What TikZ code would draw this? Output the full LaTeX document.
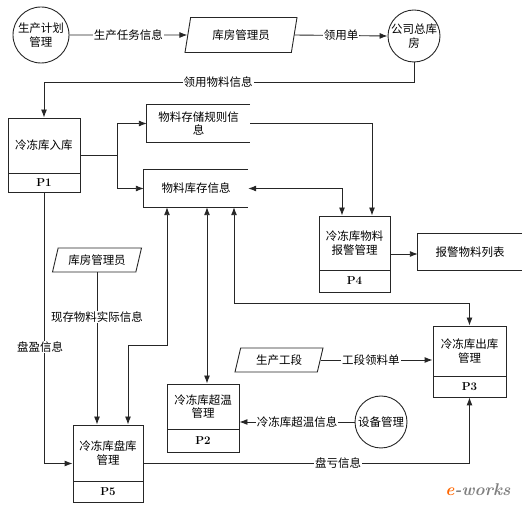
\documentclass[tikz,border=0pt]{standalone}
\usepackage{fontspec}
\newfontfamily\cjk{Noto Sans CJK SC}
\usetikzlibrary{arrows.meta,shapes.geometric}
\tikzset{
  every node/.style={font=\cjk\fontsize{11.5}{13.5}\selectfont},
  ln/.style={line width=0.9pt, draw=black!85},
  arr/.style={ln, -{Latex[length=8pt,width=6pt]}},
  darr/.style={ln, {Latex[length=8pt,width=6pt]}-{Latex[length=8pt,width=6pt]}},
  lab/.style={fill=white, inner sep=1pt},
  circ/.style={circle, draw=black!85, line width=0.9pt, inner sep=0pt, align=center},
  para/.style={trapezium, trapezium left angle=66, trapezium right angle=114,
    trapezium stretches body, draw=black!85, line width=0.9pt, inner sep=1pt},
  proc/.style={rectangle, draw=black!85, line width=0.9pt, inner sep=0pt},
  store/.style={inner sep=0pt, align=center},
  plab/.style={font=\rmfamily\bfseries\fontsize{11.5}{13}\selectfont},
}
\begin{document}
\begin{tikzpicture}[x=1pt,y=-1pt]
\useasboundingbox (0,0) rectangle (523,510);

% top row
\node[circ, minimum size=56pt] (c1) at (41,35) {生产计划\\管理};
\node[para, minimum width=112pt, minimum height=35pt] (pm1) at (241,35) {库房管理员};
\node[circ, minimum size=52pt] (c2) at (414,36) {公司总库\\房};

% process boxes
\node[proc, minimum width=72pt, minimum height=74pt] (p1) at (44,155) {};
\draw[ln] (8,173) -- (80,173);
\node at (44,145.5) {冷冻库入库};
\node[plab] at (44,182.5) {P1};

\node[proc, minimum width=71pt, minimum height=76pt] (p4) at (354.5,254) {};
\draw[ln] (319,270) -- (390,270);
\node[align=center] at (354.5,243) {冷冻库物料\\报警管理};
\node[plab] at (354.5,281) {P4};

\node[proc, minimum width=70pt, minimum height=77pt] (p5) at (108,463.5) {};
\draw[ln] (73,481) -- (143,481);
\node[align=center] at (108,453) {冷冻库盘库\\管理};
\node[plab] at (108,491.5) {P5};

\node[proc, minimum width=72pt, minimum height=68pt] (p2) at (203,418) {};
\draw[ln] (167,429) -- (239,429);
\node[align=center] at (203,406.5) {冷冻库超温\\管理};
\node[plab] at (203,440.5) {P2};

\node[proc, minimum width=73pt, minimum height=71pt] (p3) at (469.5,361.5) {};
\draw[ln] (433,376) -- (506,376);
\node[align=center] at (469.5,351) {冷冻库出库\\管理};
\node[plab] at (469.5,386.5) {P3};

% data stores
\node[store, minimum width=103pt, minimum height=37pt] (ds1) at (198.5,123.5) {物料存储规则信\\息};
\draw[ln] (ds1.north east) -- (ds1.north west) -- (ds1.south west) -- (ds1.south east);
\node[store, minimum width=104pt, minimum height=37pt] (ds2) at (196,188.5) {物料库存信息};
\draw[ln] (ds2.north east) -- (ds2.north west) -- (ds2.south west) -- (ds2.south east);
\node[store, minimum width=104pt, minimum height=36pt] (ds3) at (470,252) {报警物料列表};
\draw[ln] (ds3.north east) -- (ds3.north west) -- (ds3.south west) -- (ds3.south east);

% external entities
\node[para, minimum width=89pt, minimum height=24pt] (pm2) at (97,260) {库房管理员};
\node[para, minimum width=88pt, minimum height=24pt] (pm3) at (279,360) {生产工段};
\node[circ, minimum size=52pt] (c3) at (381,422) {设备管理};

% connectors
\draw[arr] (c1.east) -- (pm1.west) node[lab, midway] {生产任务信息};
\draw[arr] (pm1.east) -- (c2.west) node[lab, midway] {领用单};
\draw[arr] (c2.south) -- (414,82) -- (44,82) -- (p1.north);
\node[lab] at (218,82) {领用物料信息};

\coordinate (br) at (117,155);
\draw[ln] (p1.east) -- (br);
\draw[arr] (br) |- (ds1.west);
\draw[arr] (br) |- (ds2.west);

\draw[arr] (ds1.east) -| (p4.north -| 372,0);
\draw[darr] (ds2.east) -| (p4.north -| 342,0);
\draw[arr] (p4.east) -- (p4.east -| ds3.west);

\draw[darr] (ds2.south -| 167,0) -- (167,345) -- (128,345) -- (p5.north -| 128,0);
\draw[darr] (ds2.south -| 207,0) -- (p2.north -| 207,0);
\draw[darr] (ds2.south -| 234,0) -- (234,303) -| (p3.north);

\draw[arr] (pm2.south) -- (p5.north -| pm2.south);
\node[lab] at (97,317) {现存物料实际信息};

\draw[arr] (p1.south) |- (p5.west);
\node[lab] at (40,347) {盘盈信息};

\draw[arr] (p5.east) -| (p3.south);
\node[lab] at (338,463.5) {盘亏信息};

\draw[arr] (pm3.east) -- (pm3.east -| p3.west) node[lab, pos=0.45] {工段领料单};
\draw[arr] (c3.west) -- (c3.west -| p2.east) node[lab, midway] {冷冻库超温信息};

% watermark
\node[inner sep=0pt, font=\rmfamily\bfseries\itshape\fontsize{17}{17}\selectfont] (wm) at (478,490)
  {\textcolor{orange!80!red}{e}\textcolor{gray}{-works}};
\end{tikzpicture}
\end{document}
